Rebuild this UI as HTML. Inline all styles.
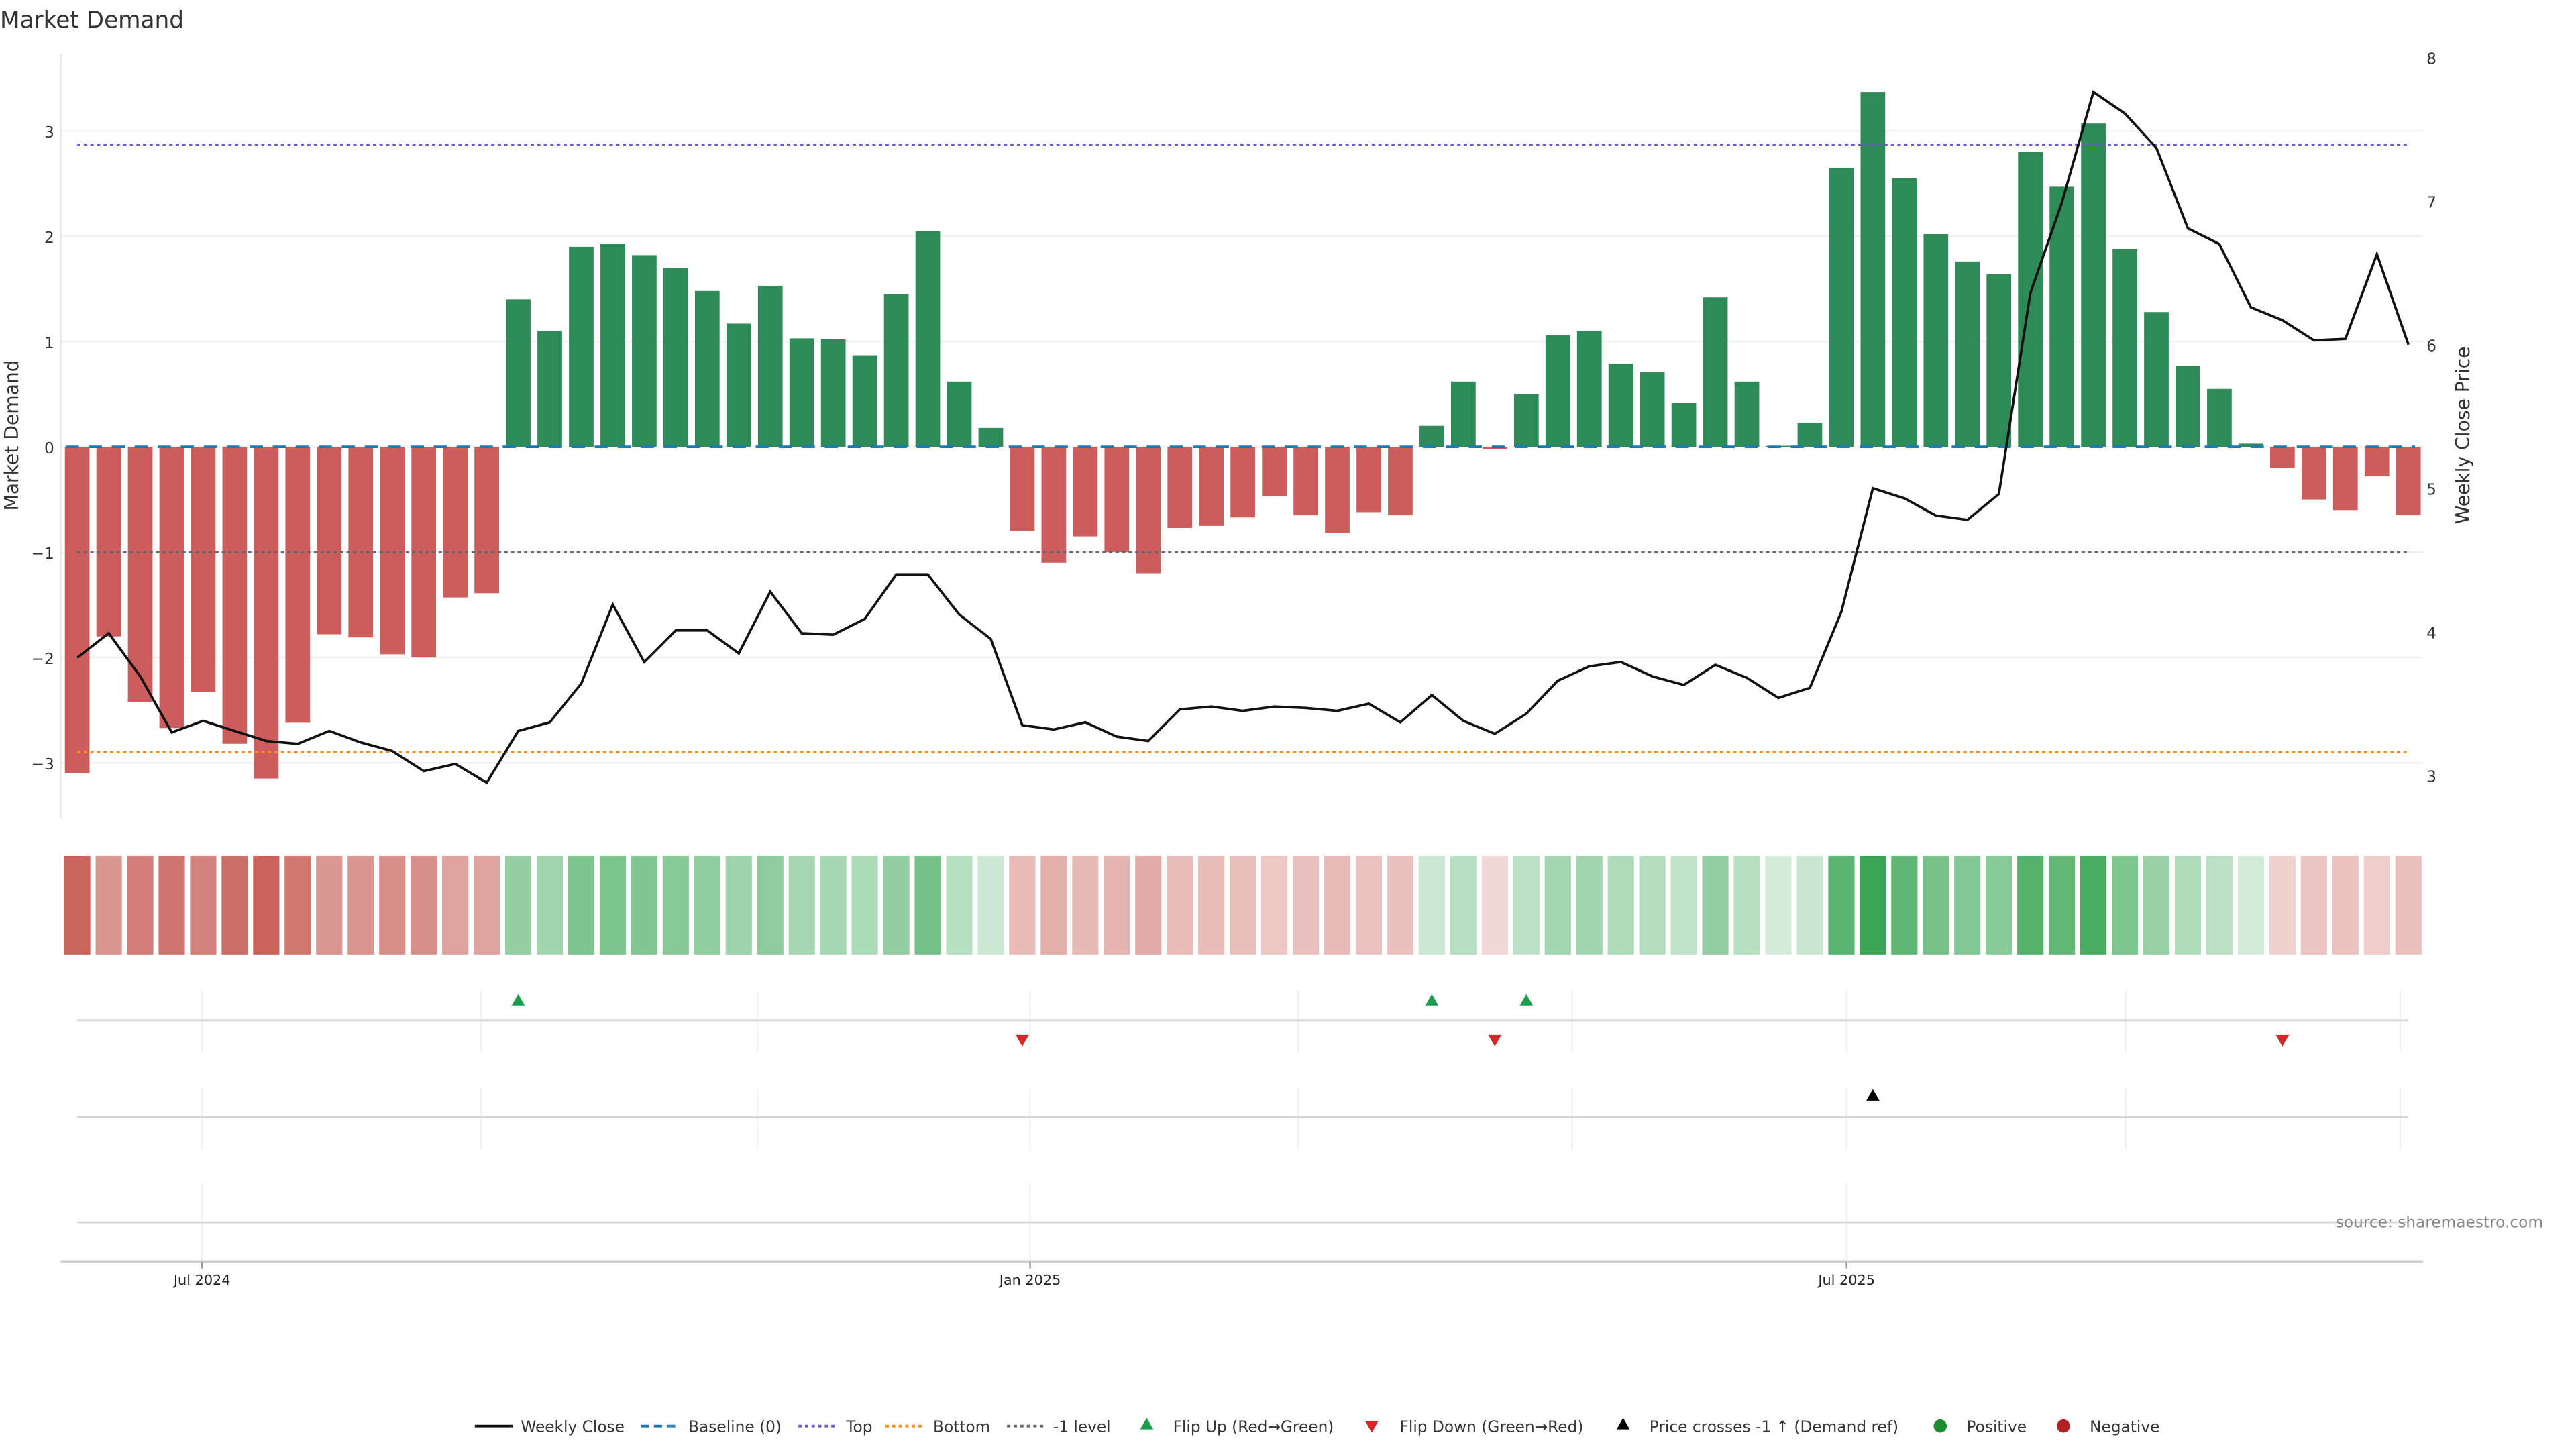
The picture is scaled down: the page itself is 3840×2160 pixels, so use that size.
<!DOCTYPE html>
<html><head><meta charset="utf-8"><style>
html,body{margin:0;padding:0;background:#fff}
svg{display:block;font-family:"DejaVu Sans","Liberation Sans",sans-serif}
</style></head><body>
<svg id="chart" width="3840" height="2160" viewBox="0 0 1568 882" xmlns="http://www.w3.org/2000/svg">
<text x="0" y="17" font-size="14" fill="#333">Market Demand</text>
<g id="g"></g>
</svg>
<script>
const demand=[-3.1,-1.8,-2.42,-2.67,-2.33,-2.82,-3.15,-2.62,-1.78,-1.81,-1.97,-2.0,-1.43,-1.39,
1.4,1.1,1.9,1.93,1.82,1.7,1.48,1.17,1.53,1.03,1.02,0.87,1.45,2.05,0.62,0.18,
-0.8,-1.1,-0.85,-1.0,-1.2,-0.77,-0.75,-0.67,-0.47,-0.65,-0.82,-0.62,-0.65,
0.2,0.62,-0.02,0.5,1.06,1.1,0.79,0.71,0.42,1.42,0.62,0.01,0.23,
2.65,3.37,2.55,2.02,1.76,1.64,2.8,2.47,3.07,1.88,1.28,0.77,0.55,0.03,
-0.2,-0.5,-0.6,-0.28,-0.65];
const price=[3.82,3.99,3.69,3.30,3.38,3.31,3.24,3.22,3.31,3.23,3.17,3.03,3.08,2.95,
3.31,3.37,3.64,4.19,3.79,4.01,4.01,3.85,4.28,3.99,3.98,4.09,4.40,4.40,4.12,3.95,
3.35,3.32,3.37,3.27,3.24,3.46,3.48,3.45,3.48,3.47,3.45,3.50,3.37,
3.56,3.38,3.29,3.43,3.66,3.76,3.79,3.69,3.63,3.77,3.68,3.54,3.61,
4.14,5.00,4.93,4.81,4.78,4.96,6.36,6.99,7.76,7.61,7.37,6.81,6.70,6.26,
6.17,6.03,6.04,6.63,6.0];
const leftTicks=[-3,-2,-1,0,1,2,3];
const rightTicks=[3,4,5,6,7,8];
const refLevels=[2.87,-2.9,-1];
const flipUpIdx=[14,43,46];
const flipDownIdx=[30,45,70];
const crossIdx=[57];
const dateTicks=["Jul 2024","Jan 2025","Jul 2025"];
const dateTickX=[123,627,1124];

const NS="http://www.w3.org/2000/svg";
const g=document.getElementById('g');
function el(t,a,txt){const e=document.createElementNS(NS,t);for(const k in a)e.setAttribute(k,a[k]);if(txt!=null)e.textContent=txt;g.appendChild(e);return e;}
const xi=i=>47+i*(1466-47)/(demand.length-1);
const yL=v=>272-v*64.1;
const yR=p=>35+(8-p)*87.4;
const bw=15;

leftTicks.forEach(t=>{
 let l=el('line',{x1:37,x2:1475,y1:yL(t),y2:yL(t),stroke:'#eef0f2','stroke-width':1});
 
 
 let tx=el('text',{x:33,y:yL(t)+4,'font-size':9.5,'text-anchor':'end',fill:'#333'},t<0?'\u2212'+(-t):String(t));
 
 
});
rightTicks.forEach(t=>{
 let tx=el('text',{x:1477,y:yR(t)+4,'font-size':9.5,fill:'#333'},String(t));
 
 
});
let sp=el('line',{x1:37,x2:37,y1:33,y2:498,stroke:'#e6e6e6'});


let ya=el('text',{transform:'translate(11,265) rotate(-90)','font-size':11.5,'text-anchor':'middle',fill:'#333'},'Market Demand');


let yb=el('text',{transform:'translate(1503,265) rotate(-90)','font-size':11.5,'text-anchor':'middle',fill:'#333'},'Weekly Close Price');



demand.forEach((v,i)=>{
 const y0=yL(0),y1=yL(v);
 let r=el('rect',{x:xi(i)-bw/2,y:Math.min(y0,y1),width:bw,height:Math.max(0.8,Math.abs(y1-y0)),fill:v>=0?'#2e8b57':'#cd5c5c'});
 
 
});
const refCols=['#6a5acd','#ff8c1a','#666'];
const refNames=['top-line','bottom-line','minus-one-line'];
refLevels.forEach((v,k)=>{
 let l=el('line',{x1:47,x2:1466,y1:yL(v),y2:yL(v),stroke:refCols[k],'stroke-width':1.2,'stroke-dasharray':'2,2'});
 
 
});
let bl=el('line',{x1:40,x2:1470,y1:yL(0),y2:yL(0),stroke:'#1f77b4','stroke-width':1.5,'stroke-dasharray':'8,6'});


let pl=el('polyline',{points:price.map((p,i)=>xi(i)+','+yR(p)).join(' '),fill:'none',stroke:'#111','stroke-width':1.5});



const maxP=Math.max(...demand),maxN=-Math.min(...demand);
demand.forEach((v,i)=>{
 let col;
 if(v>=0){const a=0.22+0.78*v/maxP;col=`rgba(58,166,85,${a.toFixed(3)})`;}
 else{const a=0.25+0.75*(-v)/maxN;col=`rgba(201,99,92,${a.toFixed(3)})`;}
 let r=el('rect',{x:xi(i)-8,y:521,width:16,height:60,fill:col});
 
 
});

const vgrid=[123,293,461,627,790,957,1124,1294,1461];
[[603,640,621],[662,700,680]].forEach(([a,b,c])=>{
 vgrid.forEach(x=>{let l=el('line',{x1:x,x2:x,y1:a,y2:b,stroke:'#f0f0f0'});});
 let l=el('line',{x1:47,x2:1466,y1:c,y2:c,stroke:'#d6d6d6','stroke-width':1.2});
 
 
});
[123,627,1124].forEach(x=>{let l=el('line',{x1:x,x2:x,y1:720,y2:768,stroke:'#f0f0f0'});});
let l3=el('line',{x1:47,x2:1466,y1:744,y2:744,stroke:'#d6d6d6','stroke-width':1.2});


function tri(x,y,up,c,name){
 const p=up?`${x},${y-4} ${x-4},${y+3} ${x+4},${y+3}`:`${x-4},${y-3} ${x+4},${y-3} ${x},${y+4}`;
 let t=el('polygon',{points:p,fill:c});
 
 
}
flipUpIdx.forEach(i=>tri(xi(i),609,true,'#1a9e4a','flip-up-marker'));
flipDownIdx.forEach(i=>tri(xi(i),633,false,'#d62728','flip-down-marker'));
crossIdx.forEach(i=>tri(xi(i),667,true,'#000','price-cross-marker'));

let xa=el('line',{x1:37,x2:1475,y1:768,y2:768,stroke:'#d0d0d0','stroke-width':1.2});


dateTicks.forEach((t,k)=>{
 let tk=el('line',{x1:dateTickX[k],x2:dateTickX[k],y1:768,y2:772,stroke:'#999'});
 
 
 let tx=el('text',{x:dateTickX[k],y:782,'font-size':8.5,'text-anchor':'middle',fill:'#222'},t);
 
 
});
let src=el('text',{x:1548,y:747,'font-size':9.5,'text-anchor':'end',fill:'#888'},'source: sharemaestro.com');



const lg=[
 ['line',289,'#111','',317,'Weekly Close'],
 ['line',390,'#1f77b4','5,3',419,'Baseline (0)'],
 ['line',486,'#6a5acd','2,2',515,'Top'],
 ['line',539,'#ff8c1a','2,2',568,'Bottom'],
 ['line',613,'#666','2,2',641,'-1 level'],
 ['up',698,'#1a9e4a','',714,'Flip Up (Red\u2192Green)'],
 ['down',835,'#d62728','',852,'Flip Down (Green\u2192Red)'],
 ['up',988,'#000','',1004,'Price crosses -1 \u2191 (Demand ref)'],
 ['dot',1181,'#1e8c2e','',1197,'Positive'],
 ['dot',1256,'#b22222','',1272,'Negative']];
const ly=868;
lg.forEach(([k,x,c,d,tx,label])=>{
 let m;
 if(k==='line')m=el('line',{x1:x,x2:x+23,y1:ly,y2:ly,stroke:c,'stroke-width':1.6,'stroke-dasharray':d});
 else if(k==='up')m=el('polygon',{points:`${x},${ly-5} ${x-4},${ly+2} ${x+4},${ly+2}`,fill:c});
 else if(k==='down')m=el('polygon',{points:`${x-4},${ly-3} ${x+4},${ly-3} ${x},${ly+4}`,fill:c});
 else m=el('circle',{cx:x,cy:ly,r:4,fill:c});
 
 
 let t=el('text',{x:tx,y:ly+3.5,'font-size':9.5,fill:'#333'},label);
 
 
});
</script>
</body></html>
